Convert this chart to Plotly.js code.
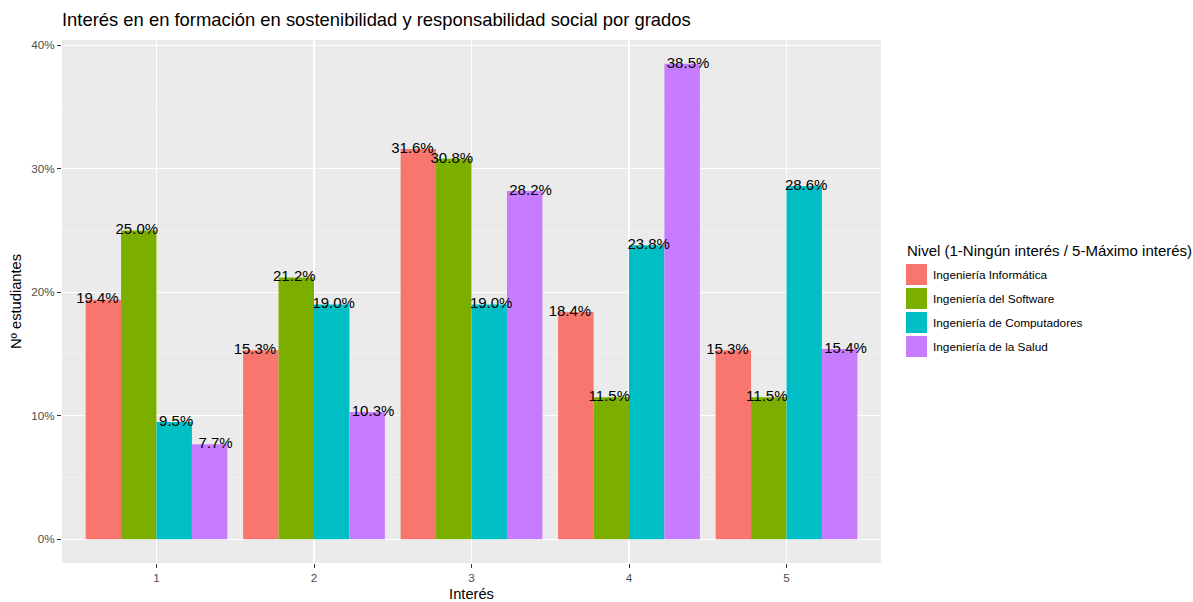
<!DOCTYPE html>
<html>
<head>
<meta charset="utf-8">
<script src="https://cdn.plot.ly/plotly-3.0.1.min.js"></script>
<style>html,body{margin:0;padding:0;background:#fff;}#chart{width:1193px;height:602px;}</style>
</head>
<body>
<div id="chart"></div>
<script>
const categories = ['1', '2', '3', '4', '5'];
const seriesNames = ['Ingeniería Informática', 'Ingeniería del Software', 'Ingeniería de Computadores', 'Ingeniería de la Salud'];
const informatica = [19.4, 15.3, 31.6, 18.4, 15.3];
const software = [25.0, 21.2, 30.8, 11.5, 11.5];
const computadores = [9.5, 19.0, 19.0, 23.8, 28.6];
const salud = [7.7, 10.3, 28.2, 38.5, 15.4];
const yTicks = [0, 10, 20, 30, 40];
const colors = ['#F8766D', '#7CAE00', '#00BFC4', '#C77CFF'];

const series = [informatica, software, computadores, salud];
const xNum = categories.map((c, i) => i + 1);
const FONT = 'Liberation Sans, Arial, sans-serif';

// plot panel in pixels
const W = 1193, H = 602;
const M = {l: 62, r: W - 881, t: 40, b: H - 563};
const pw = W - M.l - M.r, ph = H - M.t - M.b;
const px = x => (x - M.l) / pw;
const py = y => (H - M.b - y) / ph;

const traces = series.map((vals, j) => ({
  type: 'bar',
  x: xNum,
  y: vals,
  name: seriesNames[j],
  marker: {color: colors[j], line: {width: 0}},
  showlegend: false,
  hoverinfo: 'x+y+name'
}));

// labels dodged with width 1 (as in ggplot position_dodge(width = 1))
const lx = [], ly = [], lt = [];
series.forEach((vals, j) => {
  vals.forEach((v, i) => {
    lx.push(xNum[i] + (j - 1.5) * 0.25);
    ly.push(v);
    lt.push(v.toFixed(1) + '%');
  });
});
traces.push({
  type: 'scatter', mode: 'text', x: lx, y: ly, text: lt,
  textposition: 'middle center',
  textfont: {family: FONT, size: 15, color: '#000'},
  cliponaxis: false, showlegend: false, hoverinfo: 'skip'
});

const shapes = [];
const annotations = [];
// manual legend (ggplot style)
annotations.push({
  xref: 'paper', yref: 'paper', x: px(905), y: py(251),
  xanchor: 'left', yanchor: 'middle', showarrow: false,
  text: 'Nivel (1-Ningún interés / 5-Máximo interés)',
  font: {family: FONT, size: 15, color: '#000'}
});
seriesNames.forEach((n, j) => {
  const top = 264 + j * 24;
  shapes.push({
    type: 'rect', xref: 'paper', yref: 'paper',
    x0: px(906), x1: px(927), y0: py(top + 21), y1: py(top),
    fillcolor: colors[j], line: {width: 0}
  });
  annotations.push({
    xref: 'paper', yref: 'paper', x: px(931), y: py(top + 10.5),
    xanchor: 'left', yanchor: 'middle', showarrow: false,
    text: n, font: {family: FONT, size: 11.8, color: '#000'}
  });
});

const layout = {
  width: W, height: H,
  margin: M,
  paper_bgcolor: '#ffffff',
  plot_bgcolor: '#EBEBEB',
  barmode: 'group',
  bargap: 0.1,
  bargroupgap: 0,
  showlegend: false,
  font: {family: FONT},
  title: {
    text: 'Interés en en formación en sostenibilidad y responsabilidad social por grados',
    x: 0, xref: 'paper', xanchor: 'left',
    y: 1 - 20 / H, yref: 'container', yanchor: 'middle',
    font: {family: FONT, size: 18.4, color: '#000'}
  },
  xaxis: {
    range: [0.4, 5.6],
    tickmode: 'array', tickvals: xNum, ticktext: categories,
    showgrid: true, gridcolor: '#ffffff', gridwidth: 1.1,
    zeroline: false, showline: false,
    ticks: 'outside', ticklen: 4, tickwidth: 1, tickcolor: '#333333',
    tickfont: {family: FONT, size: 11.7, color: '#4D4D4D'},
    title: {text: 'Interés', font: {family: FONT, size: 14.7, color: '#000'}, standoff: 6},
    fixedrange: true
  },
  yaxis: {
    range: [-1.925, 40.425],
    tickmode: 'array', tickvals: yTicks, ticktext: yTicks.map(t => t + '%'),
    showgrid: true, gridcolor: '#ffffff', gridwidth: 1.1,
    minor: {tickmode: 'array', tickvals: [5, 15, 25, 35], showgrid: true, gridcolor: '#F5F5F5', gridwidth: 0.6, ticks: ''},
    zeroline: false, showline: false,
    ticks: 'outside', ticklen: 4, tickwidth: 1, tickcolor: '#333333',
    tickfont: {family: FONT, size: 11.7, color: '#4D4D4D'},
    title: {text: 'Nº estudiantes', font: {family: FONT, size: 14.7, color: '#000'}, standoff: 6},
    fixedrange: true
  },
  shapes: shapes,
  annotations: annotations
};

Plotly.newPlot('chart', traces, layout, {displayModeBar: false, staticPlot: true});
</script>
</body>
</html>
